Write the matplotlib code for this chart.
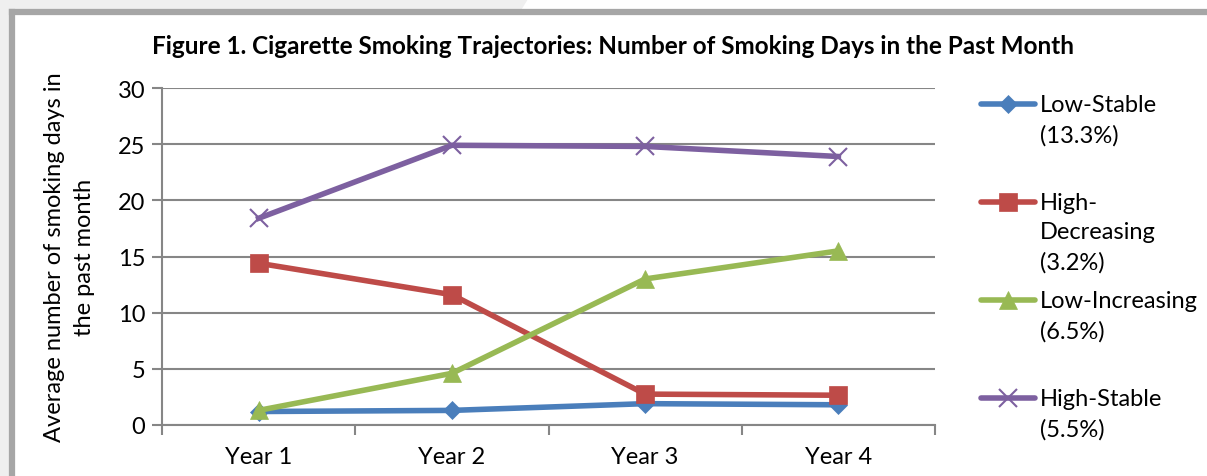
import matplotlib.pyplot as plt
from matplotlib.patches import Rectangle, Polygon
from matplotlib.lines import Line2D

plt.rcParams['font.family'] = ['Lato', 'DejaVu Sans']

years = ['Year 1', 'Year 2', 'Year 3', 'Year 4']
low_stable = [1.2, 1.3, 1.9, 1.8]
high_decreasing = [14.4, 11.6, 2.75, 2.65]
low_increasing = [1.3, 4.6, 13.0, 15.5]
high_stable = [18.4, 24.9, 24.8, 23.9]

labels = ['Low-Stable\n(13.3%)', 'High-\nDecreasing\n(3.2%)',
          'Low-Increasing\n(6.5%)', 'High-Stable\n(5.5%)']
colors = ['#4a7ebb', '#be4b48', '#98b954', '#7d60a0']
markers = ['D', 's', '^', 'x']
msizes = [9, 13, 13, 13]
series = [low_stable, high_decreasing, low_increasing, high_stable]

W, H = 1207, 477
fig = plt.figure(figsize=(W / 100, H / 100), dpi=100)
fig.patch.set_facecolor('white')

# page background and chart frame
fig.add_artist(Rectangle((0, 0), 12 / W, 1, transform=fig.transFigure,
                         facecolor='#efefef', edgecolor='none', zorder=0))
fig.add_artist(Polygon([(0, 1), (528 / W, 1), (520 / W, 1 - 13 / H), (0, 1 - 13 / H)],
                       closed=True, transform=fig.transFigure,
                       facecolor='#efefef', edgecolor='none', zorder=0))
fig.add_artist(Line2D([12 / W, 12 / W], [0, 1 - 13 / H], transform=fig.transFigure,
                      color='#a6a6a6', lw=4.5, solid_capstyle='projecting'))
fig.add_artist(Line2D([12 / W, 1], [1 - 13 / H, 1 - 13 / H], transform=fig.transFigure,
                      color='#a6a6a6', lw=4.5, solid_capstyle='projecting'))

ax = fig.add_axes([162 / W, 1 - 426 / H, (935 - 162) / W, (426 - 89) / H])
x = list(range(len(years)))
for vals, c, m, ms in zip(series, colors, markers, msizes):
    ax.plot(x, vals, color=c, lw=4, marker=m, markersize=ms,
            markeredgewidth=1.5 if m == 'x' else 0.5, clip_on=False)

ax.set_xlim(-0.5, 3.5)
ax.set_ylim(0, 30)
ax.set_yticks(range(0, 31, 5))
ax.set_xticks(x)
ax.set_xticklabels(years)
ax.set_xticks([-0.5, 0.5, 1.5, 2.5, 3.5], minor=True)
ax.tick_params(axis='x', which='major', length=0, pad=15, labelsize=17)
ax.tick_params(axis='x', which='minor', length=7, width=1.5, color='#868686')
ax.tick_params(axis='y', length=7, width=1.5, color='#868686', labelsize=17, pad=5)
ax.grid(axis='y', color='#868686', lw=1.5)
ax.set_axisbelow(True)
for s in ['top', 'right']:
    ax.spines[s].set_visible(False)
for s in ['left', 'bottom']:
    ax.spines[s].set_color('#868686')
    ax.spines[s].set_linewidth(1.5)

ax.set_ylabel('Average number of smoking days in\nthe past month', fontsize=17,
              labelpad=16, linespacing=1.55)

fig.text(613 / W, 1 - 47 / H,
         'Figure 1. Cigarette Smoking Trajectories: Number of Smoking Days in the Past Month',
         ha='center', va='center', fontsize=17.5, fontweight='bold')

# legend drawn to the right, one slot per series
for i, (lab, c, m, ms) in enumerate(zip(labels, colors, markers, msizes)):
    yy = 1 - (105 + 98 * i) / H
    fig.add_artist(Line2D([981 / W, 1035 / W], [yy, yy], transform=fig.transFigure,
                          color=c, lw=4, solid_capstyle='round'))
    fig.add_artist(Line2D([1008 / W], [yy], transform=fig.transFigure, color=c,
                          marker=m, markersize=ms, markeredgewidth=1.5 if m == 'x' else 0.5))
    fig.text(1040 / W, yy + 10 / H, lab, ha='left', va='top', fontsize=17,
             linespacing=1.5)

fig.savefig('out.png', dpi=100)
